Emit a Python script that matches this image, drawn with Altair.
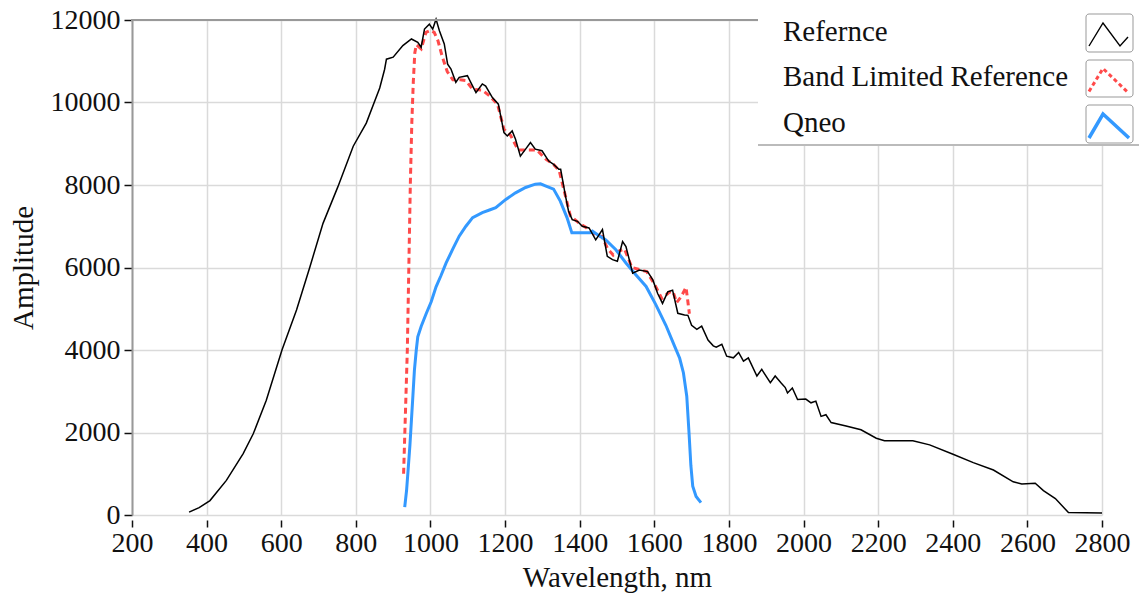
import altair as alt
import pandas as pd

# ---- data ----
ref_wl = [353, 380, 409, 453, 498, 525, 560, 602, 641, 677, 712, 752, 793, 828, 864, 877, 882, 900,
          926, 949, 966, 975, 984, 997, 1006, 1015, 1024, 1037, 1046, 1055, 1068, 1077, 1099, 1108,
          1122, 1139, 1148, 1166, 1182, 1197, 1206, 1219, 1228, 1241, 1255, 1268, 1281, 1299, 1317,
          1330, 1344, 1349, 1362, 1370, 1380, 1394, 1407, 1425, 1443, 1461, 1474, 1488, 1501, 1515,
          1524, 1542, 1560, 1582, 1596, 1609, 1622, 1636, 1649, 1663, 1681, 1690, 1700, 1714, 1727,
          1744, 1758, 1766, 1781, 1794, 1812, 1826, 1839, 1852, 1875, 1888, 1911, 1924, 1940, 1951,
          1957, 1970, 1984, 2006, 2020, 2033, 2047, 2060, 2074, 2114, 2154, 2195, 2217, 2293, 2338,
          2399, 2455, 2509, 2562, 2585, 2621, 2643, 2675, 2710, 2800]
ref_amp = [70, 180, 350, 840, 1490, 1970, 2780, 4000, 4970, 6020, 7070, 7960, 8940, 9500, 10350, 10800,
           11050, 11100, 11380, 11540, 11460, 11340, 11780, 11900, 11780, 12020, 11740, 11420, 10930,
           10810, 10490, 10610, 10650, 10490, 10240, 10450, 10400, 10120, 9960, 9270, 9190, 9310, 9110,
           8700, 8870, 9030, 8870, 8830, 8580, 8500, 8380, 8380, 7730, 7370, 7160, 7120, 7000, 6960,
           6670, 6920, 6270, 6190, 6150, 6630, 6510, 5860, 5940, 5900, 5700, 5370, 5130, 5410, 5450,
           4890, 4850, 4840, 4600, 4500, 4580, 4240, 4100, 4070, 4140, 3850, 3810, 3940, 3730, 3810,
           3370, 3530, 3210, 3370, 3200, 3090, 2960, 3080, 2800, 2810, 2720, 2760, 2390, 2430, 2240,
           2160, 2065, 1860, 1800, 1800, 1700, 1480, 1270, 1090, 805, 750, 770, 590, 400, 60, 50]

band_wl = [928, 933, 938, 942, 946, 950, 954, 958, 962, 975, 988, 1000, 1010, 1020, 1032, 1045, 1060,
           1080, 1095, 1113, 1139, 1160, 1180, 1197, 1215, 1235, 1260, 1285, 1310, 1330, 1345, 1360,
           1375, 1395, 1415, 1440, 1460, 1475, 1490, 1505, 1520, 1540, 1560, 1580, 1600, 1620, 1640,
           1650, 1660, 1672, 1685, 1690, 1694]
band_amp = [1000, 2500, 4000, 6000, 8000, 9500, 10500, 11200, 11400, 11300, 11700, 11750, 11700, 11500,
            11100, 10750, 10550, 10550, 10530, 10320, 10300, 10150, 9950, 9350, 9200, 8850, 8850, 8850,
            8620, 8500, 8350, 7800, 7250, 7100, 6980, 6800, 6750, 6450, 6300, 6400, 6450, 6000, 5950,
            5900, 5600, 5250, 5400, 5420, 5150, 5290, 5520, 5170, 4880]

qneo_wl = [931, 936, 940, 945, 949, 953, 957, 962, 966, 975, 989, 1002, 1015, 1028, 1042, 1060, 1077,
           1095, 1113, 1139, 1160, 1175, 1202, 1228, 1255, 1281, 1295, 1308, 1330, 1348, 1366, 1379,
           1406, 1428, 1434, 1450, 1470, 1497, 1524, 1551, 1578, 1604, 1631, 1654, 1668, 1678, 1687,
           1693, 1698, 1703, 1712, 1725]
qneo_amp = [190, 600, 1080, 1700, 2300, 2900, 3510, 4000, 4320, 4570, 4890, 5170, 5530, 5800, 6110, 6450,
            6760, 7000, 7210, 7330, 7400, 7450, 7650, 7810, 7940, 8020, 8030, 7980, 7900, 7610, 7210,
            6840, 6840, 6840, 6880, 6780, 6670, 6430, 6110, 5820, 5540, 5100, 4600, 4100, 3800, 3450,
            2880, 2000, 1200, 700, 450, 300]

x_ticks = list(range(200, 2801, 200))
y_ticks = list(range(0, 12001, 2000))
legend_labels = ["Refernce", "Band Limited Reference", "Qneo"]

FONT = "Liberation Serif"
FS = 28
FS_T = 29
W, H = 970, 495

ref_df = pd.DataFrame({"wl": ref_wl, "amp": ref_amp})
band_df = pd.DataFrame({"wl": band_wl, "amp": band_amp})
qneo_df = pd.DataFrame({"wl": qneo_wl, "amp": qneo_amp})
one = pd.DataFrame({"k": [0]})

xscale = alt.Scale(domain=[200, 2800], nice=False, zero=False)
yscale = alt.Scale(domain=[0, 12000], nice=False)

xenc = alt.X("wl:Q", scale=xscale, title="Wavelength, nm",
             axis=alt.Axis(values=x_ticks, format="d", domain=False, offset=5, tickSize=7,
                           tickColor="#111", tickWidth=1.5, labelPadding=2,
                           labelOverlap=False, labelFlush=False,
                           gridColor="#dadada", gridWidth=1.5, titlePadding=6))
yenc = alt.Y("amp:Q", scale=yscale, title="Amplitude",
             axis=alt.Axis(values=y_ticks, format="d", domainColor="#999", domainWidth=2,
                           tickSize=8, tickColor="#111", tickWidth=1.5, labelPadding=4,
                           labelOverlap=False, labelFlush=False,
                           gridColor="#dadada", gridWidth=1.5, titlePadding=12))

band = alt.Chart(band_df).mark_line(color="#ff4a4a", strokeWidth=3, strokeDash=[6, 4]).encode(
    x=xenc, y=yenc, order="wl:Q")
qneo = alt.Chart(qneo_df).mark_line(color="#3399ff", strokeWidth=3).encode(
    x="wl:Q", y="amp:Q", order="wl:Q")
ref = alt.Chart(ref_df).mark_line(color="#000000", strokeWidth=1.5).encode(
    x="wl:Q", y="amp:Q", order="wl:Q")

# top frame line
topline = alt.Chart(one).mark_rule(color="#999", strokeWidth=2).encode(
    x=alt.value(-1), x2=alt.value(W), y=alt.value(0))

# legend (drawn as decoration)
leg_bg = alt.Chart(one).mark_rect(fill="white").encode(
    x=alt.value(626), x2=alt.value(1007), y=alt.value(-2), y2=alt.value(125))
leg_line = alt.Chart(one).mark_rule(color="#bbb", strokeWidth=2).encode(
    x=alt.value(626), x2=alt.value(1007), y=alt.value(125))

layers = [band, qneo, ref, topline, leg_bg, leg_line]
label_y = [12, 57, 103]
box_y = [(-6, 32), (40, 77), (85, 123)]
icons = [
    ("M-1,0.55L-0.3,-0.6L0.55,0.55L0.95,0.1", "#000000", 1.4, None),
    ("M-1,0.55L-0.3,-0.6L0.95,0.6", "#ff4a4a", 3, [4, 3]),
    ("M-1,0.6L-0.3,-0.6L1,0.6", "#3399ff", 3.5, None),
]
for lab, ly, (b0, b1), (path, col, sw, dash) in zip(legend_labels, label_y, box_y, icons):
    layers.append(alt.Chart(one).mark_text(
        text=lab, font=FONT, fontSize=FS_T, align="left", baseline="middle", color="#111").encode(
        x=alt.value(651), y=alt.value(ly)))
    layers.append(alt.Chart(one).mark_rect(
        fill="white", stroke="#999", strokeWidth=1, cornerRadius=3).encode(
        x=alt.value(954), x2=alt.value(1001), y=alt.value(b0), y2=alt.value(b1)))
    pkw = dict(shape=path, filled=False, color=col, strokeWidth=sw, size=1600, opacity=1)
    if dash:
        pkw["strokeDash"] = dash
    layers.append(alt.Chart(one).mark_point(**pkw).encode(
        x=alt.value(977), y=alt.value((b0 + b1) / 2 + 2)))

chart = alt.layer(*layers).properties(
    width=W, height=H,
    autosize=alt.AutoSizeParams(type="none"),
    padding={"left": 132, "top": 20, "right": 37, "bottom": 81},
).configure_view(stroke=None).configure_axis(
    labelFont=FONT, titleFont=FONT, labelFontSize=FS, titleFontSize=FS_T,
    labelColor="#111", titleColor="#111", titleFontWeight="normal",
)

chart.save("out.html", embed_options={"renderer": "svg", "actions": False})
